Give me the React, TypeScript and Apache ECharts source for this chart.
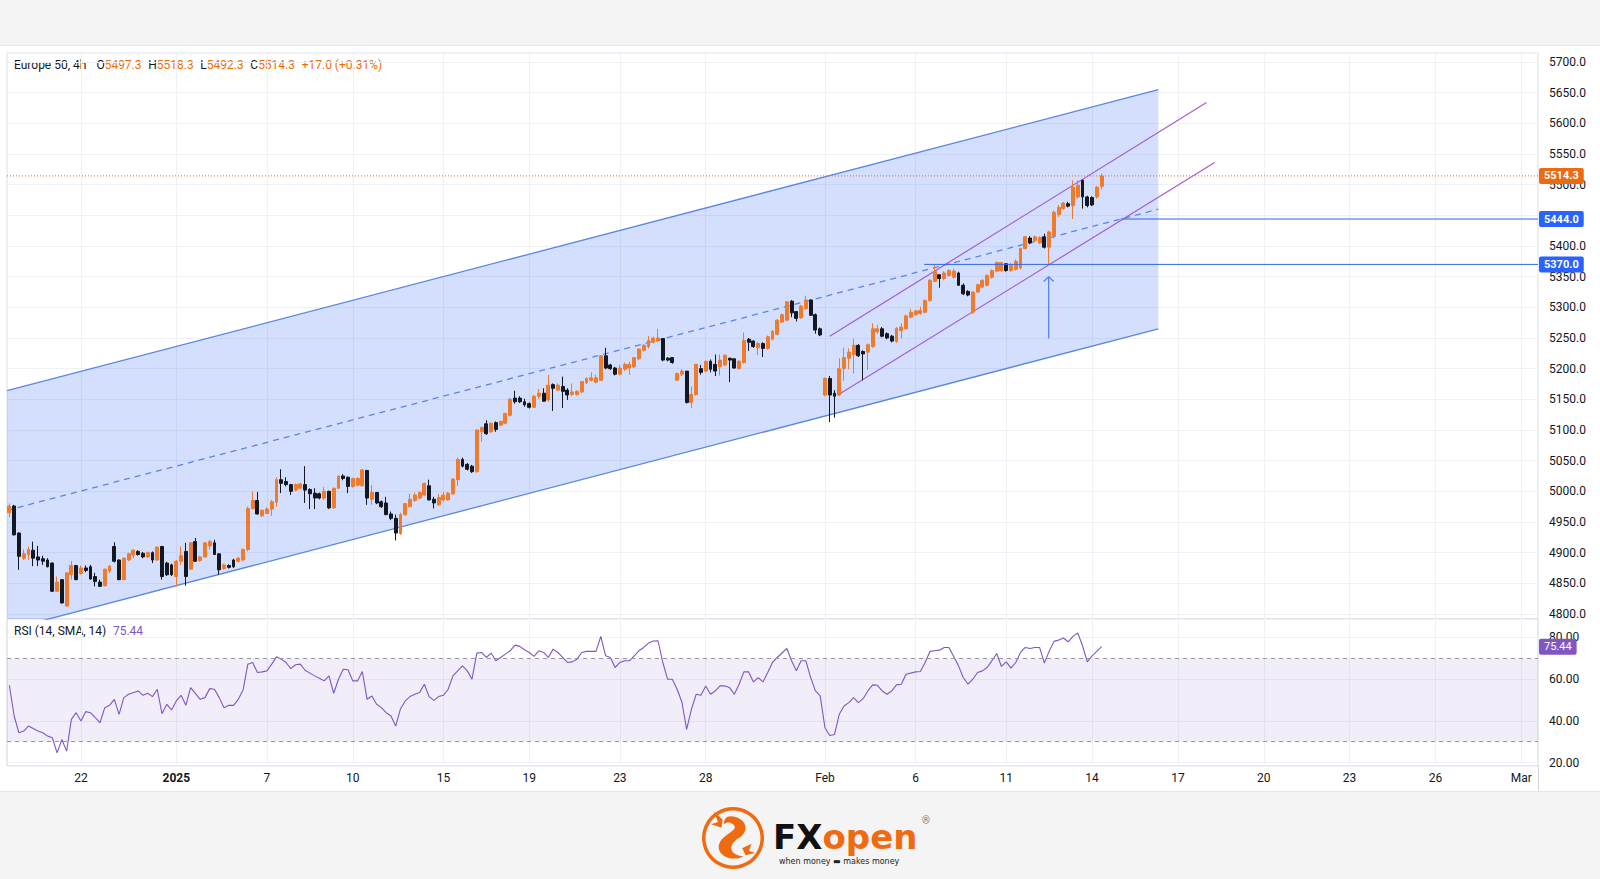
import React, { useEffect, useRef } from 'react';
import * as echarts from 'echarts';

// ---------------- data ----------------
const symbolName = 'Europe 50, 4h';
const lastOpen = 5497.3;
const lastHigh = 5518.3;
const lastLow = 5492.3;
const lastClose = 5514.3;
const changeText = '+17.0 (+0.31%)';
const rsiTitle = 'RSI (14, SMA, 14)';
const lastRsi = 75.44;
const levelHigh = 5444.0;
const levelLow = 5370.0;
const hiddenPriceLabels = [5450]; // covered by the 5444.0 tag in the reference
const slotCount = 321; // bar slots on the time axis (incl. future space)

// [open, close, low, high]
const candles: number[][] = [
  [4965,4976,4958,4980],[4976,4929,4928,4978],[4932,4894,4872,4933],[4891,4898,4888,4905],[4897,4905,4888,4910],
  [4904,4891,4878,4918],[4893,4888,4878,4911],[4890,4886,4880,4895],[4888,4877,4876,4891],[4883,4837,4836,4884],
  [4837,4852,4836,4861],[4856,4818,4817,4857],[4813,4867,4812,4868],[4864,4879,4856,4886],[4879,4856,4855,4880],
  [4866,4875,4864,4879],[4875,4871,4868,4879],[4877,4857,4856,4880],[4861,4853,4845,4867],[4852,4845,4844,4856],
  [4846,4873,4845,4874],[4870,4878,4867,4880],[4910,4886,4884,4917],[4888,4856,4855,4889],[4856,4891,4855,4892],
  [4888,4898,4886,4900],[4896,4904,4891,4906],[4902,4897,4895,4904],[4899,4893,4891,4901],[4893,4900,4891,4902],
  [4900,4888,4883,4902],[4888,4909,4887,4910],[4910,4861,4856,4911],[4883,4864,4862,4885],[4880,4864,4862,4882],
  [4861,4886,4845,4888],[4886,4895,4880,4910],[4902,4861,4846,4916],[4873,4916,4872,4917],[4918,4886,4885,4924],
  [4887,4893,4885,4895],[4893,4916,4892,4917],[4911,4918,4905,4921],[4916,4897,4896,4921],[4898,4872,4864,4899],
  [4874,4880,4872,4882],[4879,4876,4874,4881],[4888,4877,4875,4890],[4886,4891,4884,4893],[4888,4905,4886,4907],
  [4905,4972,4902,4975],[4972,4985,4970,5000],[4985,4963,4962,4999],[4960,4969,4958,4971],[4964,4971,4963,4974],
  [4971,4983,4960,4986],[4982,5019,4975,5023],[5019,5013,4997,5036],[5016,5011,5008,5023],[5011,5000,4994,5012],
  [5002,5011,5000,5013],[5005,5012,5003,5014],[5011,5002,4981,5041],[5003,4996,4971,5005],[4997,4989,4971,5005],
  [4996,4989,4987,4998],[4989,5000,4986,5007],[5000,4973,4971,5001],[4973,5005,4972,5006],[5005,5025,5004,5026],
  [5025,5021,5018,5028],[5023,5008,4997,5024],[5008,5021,5006,5022],[5010,5021,5008,5023],[5009,5035,5008,5036],
  [5034,4989,4978,5035],[4987,4998,4978,5010],[4998,4981,4979,4999],[4983,4975,4973,4985],[4981,4962,4961,4991],
  [4963,4956,4953,4967],[4956,4932,4920,4962],[4931,4962,4929,4965],[4962,4980,4960,4981],[4975,4987,4974,4996],
  [4985,4994,4983,4998],[4989,4998,4987,5000],[4994,5013,4992,5014],[5009,4986,4985,5019],[4987,4981,4972,4991],
  [4978,4990,4976,4996],[4986,4994,4983,4999],[4986,4997,4985,4999],[4996,5020,4994,5021],[5019,5052,5009,5055],
  [5052,5041,5039,5055],[5044,5036,5034,5046],[5041,5032,5030,5043],[5032,5100,5030,5101],[5097,5104,5081,5106],
  [5110,5094,5092,5116],[5097,5111,5095,5112],[5112,5101,5097,5114],[5108,5114,5106,5115],[5111,5127,5109,5128],
  [5124,5150,5122,5152],[5152,5146,5143,5164],[5152,5146,5144,5155],[5146,5141,5138,5151],[5143,5137,5135,5145],
  [5137,5155,5136,5157],[5155,5160,5151,5167],[5160,5147,5146,5168],[5149,5173,5146,5190],[5174,5168,5131,5176],
  [5165,5173,5163,5176],[5171,5163,5136,5187],[5165,5157,5149,5168],[5158,5162,5155,5176],[5158,5163,5156,5165],
  [5162,5179,5160,5180],[5177,5184,5175,5186],[5181,5185,5179,5194],[5178,5185,5176,5190],[5181,5221,5180,5222],
  [5221,5201,5199,5234],[5206,5200,5198,5208],[5201,5191,5189,5203],[5191,5201,5189,5206],[5199,5207,5196,5210],
  [5201,5207,5190,5211],[5203,5218,5201,5219],[5216,5232,5214,5233],[5230,5238,5228,5240],[5236,5246,5233,5253],
  [5243,5250,5241,5252],[5245,5250,5243,5265],[5249,5214,5212,5250],[5217,5214,5212,5219],[5218,5210,5208,5219],
  [5181,5192,5180,5194],[5191,5196,5188,5199],[5196,5145,5143,5196],[5145,5158,5136,5171],[5158,5207,5156,5208],
  [5200,5194,5190,5206],[5196,5212,5194,5213],[5212,5199,5194,5215],[5207,5196,5188,5223],[5203,5214,5189,5223],
  [5206,5222,5204,5223],[5217,5214,5178,5218],[5216,5201,5200,5217],[5200,5212,5199,5214],[5210,5246,5208,5259],
  [5248,5243,5229,5250],[5245,5236,5234,5246],[5234,5241,5222,5244],[5241,5233,5219,5243],[5233,5252,5231,5254],
  [5248,5261,5246,5263],[5256,5279,5254,5281],[5276,5288,5274,5290],[5279,5309,5277,5310],[5310,5291,5284,5312],
  [5293,5282,5277,5294],[5283,5302,5281,5304],[5298,5312,5296,5319],[5312,5287,5286,5313],[5288,5263,5257,5290],
  [5265,5255,5253,5267],[5157,5184,5155,5186],[5184,5157,5113,5188],[5160,5155,5120,5165],[5157,5200,5155,5217],
  [5200,5218,5180,5234],[5217,5227,5199,5233],[5223,5238,5192,5249],[5238,5221,5219,5240],[5228,5224,5181,5230],
  [5227,5239,5198,5241],[5236,5265,5234,5274],[5260,5265,5257,5271],[5265,5253,5251,5268],[5257,5250,5248,5259],
  [5253,5245,5243,5255],[5244,5266,5242,5268],[5262,5268,5249,5274],[5265,5286,5264,5288],[5284,5292,5282,5297],
  [5288,5294,5286,5296],[5290,5295,5288,5301],[5292,5311,5290,5313],[5311,5344,5309,5346],[5342,5359,5341,5369],
  [5353,5347,5332,5354],[5347,5356,5344,5359],[5352,5360,5350,5362],[5349,5359,5347,5363],[5356,5336,5335,5358],
  [5336,5322,5320,5339],[5326,5320,5318,5328],[5292,5325,5289,5326],[5325,5337,5323,5338],[5333,5344,5331,5346],
  [5336,5352,5334,5354],[5349,5360,5347,5362],[5359,5373,5357,5375],[5360,5373,5358,5374],[5371,5360,5358,5372],
  [5360,5370,5358,5372],[5362,5375,5360,5378],[5364,5396,5362,5397],[5396,5415,5394,5417],[5413,5405,5403,5416],
  [5409,5415,5406,5417],[5405,5414,5403,5416],[5415,5398,5396,5420],[5398,5423,5368,5425],[5417,5455,5412,5458],
  [5451,5463,5447,5467],[5461,5470,5459,5472],[5469,5465,5463,5472],[5466,5496,5444,5507],[5480,5499,5477,5507],
  [5507,5480,5461,5508],[5480,5466,5463,5482],[5479,5467,5465,5481],[5480,5496,5477,5498],
  [lastOpen, lastClose, lastLow, lastHigh],
];

// RSI readings: [bar index, value]
const rsiPoints: number[][] = [
  [0,57.0],[1,42.3],[2,34.3],[3,35.1],[4,37.5],[6,35.1],[7,34.3],[8,32.7],[9,31.9],[10,24.7],[11,31.1],[12,25.5],
  [13,40.7],[14,43.9],[15,39.9],[16,44.4],[17,43.9],[18,41.5],[19,39.1],[20,46.3],[21,47.4],[22,50.3],[23,43.1],
  [24,51.1],[25,52.7],[27,54.3],[28,52.2],[29,53.2],[30,51.6],[31,55.1],[32,43.4],[33,47.9],[34,45.2],[35,49.5],
  [36,52.2],[37,47.4],[38,55.9],[40,50.3],[41,51.1],[42,55.4],[43,55.1],[44,51.1],[45,46.3],[46,47.4],[47,47.4],
  [48,50.3],[49,54.8],[50,67.1],[51,67.9],[52,63.1],[53,63.4],[54,63.9],[55,67.1],[56,70.6],[57,69.5],[58,67.9],
  [59,65.0],[60,66.8],[61,67.1],[62,64.2],[64,61.5],[65,60.4],[66,59.1],[67,61.5],[68,53.2],[69,59.9],[70,64.7],
  [71,64.4],[72,59.1],[73,59.1],[74,63.6],[75,50.3],[76,51.9],[77,47.9],[78,46.3],[79,43.9],[80,42.3],[81,37.5],
  [82,45.7],[83,49.5],[84,51.6],[85,52.7],[86,53.5],[87,57.5],[88,51.6],[89,49.8],[90,51.6],[91,52.2],[92,55.1],
  [93,61.5],[95,66.3],[96,63.9],[97,59.9],[98,72.4],[99,72.7],[100,70.3],[101,72.4],[102,68.7],[103,70.3],
  [104,71.9],[105,73.5],[106,76.2],[107,75.6],[108,74.0],[109,72.7],[110,70.8],[111,73.5],[112,72.7],[113,70.3],
  [114,74.3],[115,72.7],[116,70.3],[117,67.9],[118,68.2],[119,69.5],[120,72.7],[121,73.2],[122,73.2],[123,73.2],
  [124,80.4],[125,71.1],[126,70.3],[127,65.5],[128,67.9],[129,68.7],[130,68.7],[131,71.1],[132,73.5],[133,75.1],
  [134,77.2],[135,78.2],[136,78.3],[137,67.9],[138,59.9],[139,59.9],[140,55.1],[141,49.0],[142,35.9],[143,45.5],
  [144,52.7],[145,52.2],[146,56.7],[147,52.7],[148,54.3],[149,56.7],[150,56.7],[151,55.9],[152,52.7],[153,57.5],
  [154,63.4],[155,63.4],[156,58.6],[157,60.7],[158,58.6],[159,63.1],[160,67.9],[161,70.3],[163,74.6],[164,68.7],
  [165,63.9],[166,68.7],[167,68.7],[168,60.7],[169,54.3],[170,51.9],[171,36.7],[172,33.0],[173,33.5],[174,43.1],
  [175,47.1],[176,48.7],[177,51.1],[178,48.7],[179,50.6],[180,54.3],[181,57.2],[182,57.0],[183,54.3],[184,52.7],
  [185,54.3],[186,57.2],[187,57.5],[188,62.3],[190,63.4],[191,63.6],[192,67.9],[193,73.2],[194,73.5],[195,73.8],
  [196,75.1],[197,75.1],[199,66.3],[200,60.7],[201,57.5],[202,59.9],[203,63.1],[204,63.9],[205,65.5],[206,68.7],
  [207,72.2],[208,66.0],[209,68.2],[210,65.2],[211,67.9],[212,72.7],[213,75.1],[214,74.6],[215,75.1],[216,75.1],
  [217,67.6],[218,73.2],[219,78.0],[220,78.6],[221,79.6],[222,77.8],[223,80.4],[224,82.0],[225,75.9],[226,68.2],
  [227,71.1],[228,73.2],[229,lastRsi],
];

const dateTicks: [number, string][] = [
  [15,'22'],[35,'2025'],[54,'7'],[72,'10'],[91,'15'],[109,'19'],[128,'23'],[146,'28'],[171,'Feb'],
  [190,'6'],[209,'11'],[227,'14'],[245,'17'],[263,'20'],[281,'23'],[299,'26'],[317,'Mar'],
];

// drawings: [bar position, price]
const channelUpper = [[-0.5, 5164], [240.9, 5655]];
const channelMid = [[-0.5, 4969], [240.9, 5460]];
const channelLower = [[-0.5, 4774], [240.9, 5265]];
const trendUpper = [[172, 5253], [251, 5634]];
const trendLower = [[173.7, 5157], [252.7, 5536]];
const levelHighStart = 233.0;
const levelLowStart = 191.8;
const arrowShaft = [[217.9, 5249], [217.9, 5350]];
const arrowHead = [[216.85, 5342], [217.9, 5350], [218.95, 5342]];

// ---------------- styling ----------------
const FONT = 'Roboto, "Liberation Sans", sans-serif';
const UP = '#ef7b2f';
const DOWN = '#131722';
const ORANGE_TAG = '#ec6a12';
const BLUE = '#2f66e8';
const BLUE_TAG = '#2962ff';
const CH_LINE = '#5a86e2';
const PURPLE = '#a55bd4';
const RSI_COLOR = '#7e57c2';
const GRID_COLOR = '#eff1f6';
const SLOT_MAX = slotCount - 0.5;

const tickMap = new Map<number, string>(dateTicks);

let swirlRegistered = false;
function registerLogoShapes() {
  if (swirlRegistered) return;
  swirlRegistered = true;
  echarts.graphic.registerShape(
    'fxSwirl',
    echarts.graphic.extendPath(
      'M-2-19C12-18 15-6 5 0C-5 6-3 15 9 16C-3 22-17 13-11 3C-7-4 6-7 0-12C-2-14-6-14-8-12C-8-16-6-19-2-19Z' +
        'M-9-16L-17-23L-13-14L-19-12L-10-9Z' +
        'M8 9L16 5L14 11L19 13L11 15Z',
      {}
    )
  );
}

function clipPoly(points: number[][], r: { x: number; y: number; width: number; height: number }) {
  const clip = (poly: number[][], inside: (p: number[]) => boolean, cross: (a: number[], b: number[]) => number[]) => {
    const out: number[][] = [];
    for (let i = 0; i < poly.length; i++) {
      const cur = poly[i];
      const prev = poly[(i + poly.length - 1) % poly.length];
      const ci = inside(cur);
      const pi = inside(prev);
      if (ci) {
        if (!pi) out.push(cross(prev, cur));
        out.push(cur);
      } else if (pi) out.push(cross(prev, cur));
    }
    return out;
  };
  const atX = (a: number[], b: number[], x: number) => [x, a[1] + ((b[1] - a[1]) * (x - a[0])) / (b[0] - a[0])];
  const atY = (a: number[], b: number[], y: number) => [a[0] + ((b[0] - a[0]) * (y - a[1])) / (b[1] - a[1]), y];
  let p = points;
  p = clip(p, (q) => q[0] >= r.x, (a, b) => atX(a, b, r.x));
  p = clip(p, (q) => q[0] <= r.x + r.width, (a, b) => atX(a, b, r.x + r.width));
  p = clip(p, (q) => q[1] >= r.y, (a, b) => atY(a, b, r.y));
  p = clip(p, (q) => q[1] <= r.y + r.height, (a, b) => atY(a, b, r.y + r.height));
  return p;
}

function buildOption() {
  const slots = Array.from({ length: slotCount }, (_, i) => String(i));
  const tagLabel = (bg: string, text: string) => ({
    show: true,
    formatter: () => text,
    backgroundColor: bg,
    color: '#ffffff',
    fontFamily: FONT,
    fontSize: 11,
    fontWeight: 'bold',
    padding: [3, 5, 2, 5],
    borderRadius: 2,
    distance: 1,
  });
  const drawLine = (data: number[][], color: string, extra: any = {}) => ({
    type: 'line',
    xAxisIndex: extra.xAxisIndex ?? 1,
    yAxisIndex: extra.yAxisIndex ?? 0,
    data,
    symbol: 'none',
    silent: true,
    z: 3,
    lineStyle: { color, width: 1.3, ...(extra.lineStyle || {}) },
    ...extra.rest,
  });

  const catAxisCommon = (gridIndex: number, showLabels: boolean) => ({
    type: 'category',
    gridIndex,
    data: slots,
    boundaryGap: true,
    axisLine: { show: false },
    axisTick: { show: false, alignWithLabel: true },
    axisLabel: {
      show: showLabels,
      interval: (i: number) => tickMap.has(i),
      formatter: (_v: string, i: number) => {
        const t = tickMap.get(i) || '';
        return t === '2025' ? `{b|${t}}` : t;
      },
      color: '#131722',
      fontFamily: FONT,
      fontSize: 12,
      margin: 6,
      rich: { b: { fontWeight: 'bold', fontFamily: FONT, fontSize: 12, color: '#131722' } },
    },
    splitLine: {
      show: true,
      interval: (i: number) => tickMap.has(i),
      alignWithLabel: true,
      lineStyle: { color: GRID_COLOR, width: 1 },
    },
  });

  return {
    animation: false,
    backgroundColor: '#ffffff',
    textStyle: { fontFamily: FONT },
    grid: [
      { left: 7, right: 62, top: 53, height: 566, show: true, borderColor: '#dcdfe6', borderWidth: 1, backgroundColor: '#ffffff' },
      { left: 7, right: 62, top: 619, height: 147, show: true, borderColor: '#d0d3db', borderWidth: 1, backgroundColor: '#ffffff' },
    ],
    xAxis: [
      catAxisCommon(0, false),
      { type: 'value', gridIndex: 0, min: -0.5, max: SLOT_MAX, show: false },
      catAxisCommon(1, true),
      { type: 'value', gridIndex: 1, min: -0.5, max: SLOT_MAX, show: false },
    ],
    yAxis: [
      {
        type: 'value',
        gridIndex: 0,
        position: 'right',
        min: 4791.8,
        max: 5714.7,
        splitNumber: 18,
        minInterval: 50,
        maxInterval: 50,
        axisLine: { show: false },
        axisTick: { show: false },
        axisLabel: {
          showMinLabel: false,
          showMaxLabel: false,
          formatter: (v: number) => (hiddenPriceLabels.includes(Math.round(v)) ? '' : v.toFixed(1)),
          color: '#131722',
          fontFamily: FONT,
          fontSize: 12,
          margin: 11,
        },
        splitLine: { show: true, lineStyle: { color: GRID_COLOR } },
      },
      {
        type: 'value',
        gridIndex: 1,
        position: 'right',
        min: 18.4,
        max: 88.7,
        splitNumber: 4,
        minInterval: 20,
        maxInterval: 20,
        axisLine: { show: false },
        axisTick: { show: false },
        axisLabel: {
          showMinLabel: false,
          showMaxLabel: false,
          formatter: (v: number) => v.toFixed(2),
          color: '#131722',
          fontFamily: FONT,
          fontSize: 12,
          margin: 11,
        },
        splitLine: { show: true, lineStyle: { color: GRID_COLOR } },
      },
    ],
    graphic: [
      { type: 'rect', left: 0, top: 0, shape: { width: 1600, height: 45 }, style: { fill: '#f4f4f4' }, silent: true },
      { type: 'rect', left: 0, top: 792, shape: { width: 1600, height: 87 }, style: { fill: '#f4f4f4' }, silent: true },
      { type: 'line', shape: { x1: 0, y1: 45.5, x2: 1600, y2: 45.5 }, style: { stroke: '#e6e6e6', lineWidth: 1 }, silent: true },
      { type: 'line', shape: { x1: 0, y1: 791.5, x2: 1600, y2: 791.5 }, style: { stroke: '#e6e6e6', lineWidth: 1 }, silent: true },
      { type: 'line', shape: { x1: 1538.5, y1: 766, x2: 1538.5, y2: 791 }, style: { stroke: '#d0d3db', lineWidth: 1 }, silent: true },
      {
        type: 'text',
        left: 14,
        top: 59,
        silent: true,
        style: {
          text:
            `{n|${symbolName}}   {k|O}{v|${lastOpen.toFixed(1)}}  {k|H}{v|${lastHigh.toFixed(1)}}  ` +
            `{k|L}{v|${lastLow.toFixed(1)}}  {k|C}{v|${lastClose.toFixed(1)}}  {v|${changeText}}`,
          rich: {
            n: { fill: '#131722', fontSize: 12, fontFamily: FONT },
            k: { fill: '#131722', fontSize: 12, fontFamily: FONT },
            v: { fill: '#ef6c00', fontSize: 12, fontFamily: FONT },
          },
        },
      },
      {
        type: 'text',
        left: 14,
        top: 625,
        silent: true,
        style: {
          text: `{n|${rsiTitle}}  {v|${lastRsi.toFixed(2)}}`,
          rich: {
            n: { fill: '#131722', fontSize: 12, fontFamily: FONT },
            v: { fill: RSI_COLOR, fontSize: 12, fontFamily: FONT },
          },
        },
      },
      // FXOpen logo
      {
        type: 'group',
        silent: true,
        children: [
          { type: 'ring', shape: { cx: 733, cy: 838, r: 31, r0: 27.5 }, style: { fill: '#f06a12' } },
          { type: 'fxSwirl', x: 733, y: 838, scaleX: 1.15, scaleY: 1.15, style: { fill: '#f06a12' } },
          {
            type: 'text',
            x: 773,
            y: 837,
            style: {
              text: '{a|FX}{b|open}',
              verticalAlign: 'middle',
              rich: {
                a: { fill: '#111111', fontSize: 34, fontWeight: 900, fontFamily: '"DejaVu Sans", sans-serif' },
                b: { fill: '#f06a12', fontSize: 34, fontWeight: 'bold', fontFamily: '"DejaVu Sans", sans-serif' },
              },
            },
          },
          { type: 'text', x: 922, y: 815, style: { text: '®', fill: '#777777', fontSize: 10, fontFamily: FONT } },
          {
            type: 'text',
            x: 779,
            y: 857,
            style: { text: 'when money ▬ makes money', fill: '#222222', fontSize: 8, fontFamily: '"DejaVu Sans", sans-serif' },
          },
        ],
      },
    ],
    series: [
      {
        type: 'custom',
        xAxisIndex: 1,
        yAxisIndex: 0,
        silent: true,
        z: 1,
        data: [[0, 5000]],
        renderItem: (params: any, api: any) => {
          const cs = params.coordSys;
          const pts = [channelUpper[0], channelUpper[1], channelLower[1], channelLower[0]].map((p) => api.coord(p));
          const clipped = clipPoly(pts, { x: cs.x, y: cs.y, width: cs.width, height: cs.height });
          return {
            type: 'polygon',
            shape: { points: clipped },
            style: { fill: 'rgba(52,104,250,0.21)', stroke: 'none' },
          };
        },
      },
      drawLine(channelUpper, CH_LINE),
      drawLine(channelLower, CH_LINE),
      drawLine(channelMid, CH_LINE, { lineStyle: { type: [6, 5], width: 1.3 } }),
      drawLine(trendUpper, PURPLE, { lineStyle: { width: 1.2 } }),
      drawLine(trendLower, PURPLE, { lineStyle: { width: 1.2 } }),
      drawLine(
        [[levelLowStart, levelLow], [SLOT_MAX, levelLow]],
        BLUE,
        { lineStyle: { width: 1 }, rest: { z: 6, endLabel: tagLabel(BLUE_TAG, levelLow.toFixed(1)) } }
      ),
      drawLine(
        [[levelHighStart, levelHigh], [SLOT_MAX, levelHigh]],
        BLUE,
        { lineStyle: { width: 1 }, rest: { z: 6, endLabel: tagLabel(BLUE_TAG, levelHigh.toFixed(1)) } }
      ),
      drawLine(
        [[-0.5, lastClose], [SLOT_MAX, lastClose]],
        ORANGE_TAG,
        { lineStyle: { width: 1, type: [1, 2] }, rest: { z: 7, endLabel: tagLabel(ORANGE_TAG, lastClose.toFixed(1)) } }
      ),
      drawLine(arrowShaft, CH_LINE, { lineStyle: { width: 1.3 } }),
      drawLine(arrowHead, CH_LINE, { lineStyle: { width: 1.3 } }),
      {
        type: 'candlestick',
        xAxisIndex: 0,
        yAxisIndex: 0,
        data: candles,
        barWidth: 3.4,
        silent: true,
        z: 5,
        itemStyle: { color: UP, color0: DOWN, borderColor: UP, borderColor0: DOWN, borderWidth: 1 },
      },
      {
        type: 'line',
        xAxisIndex: 2,
        yAxisIndex: 1,
        data: rsiPoints,
        symbol: 'none',
        silent: true,
        z: 4,
        lineStyle: { color: RSI_COLOR, width: 1.1 },
        markArea: {
          silent: true,
          itemStyle: { color: 'rgba(126,87,194,0.1)' },
          data: [[{ yAxis: 30 }, { yAxis: 70 }]],
        },
        markLine: {
          silent: true,
          symbol: ['none', 'none'],
          label: { show: false },
          data: [
            { yAxis: 70, lineStyle: { color: '#9598a1', type: [4, 4], width: 1 } },
            { yAxis: 30, lineStyle: { color: '#9598a1', type: [4, 4], width: 1 } },
          ],
        },
      },
      // last RSI value tag on the RSI price scale
      drawLine(
        [[-0.5, lastRsi], [SLOT_MAX, lastRsi]],
        'rgba(0,0,0,0)',
        {
          xAxisIndex: 3,
          yAxisIndex: 1,
          lineStyle: { width: 1, color: 'rgba(0,0,0,0)' },
          rest: { z: 7, endLabel: { ...tagLabel(RSI_COLOR, lastRsi.toFixed(2)), fontWeight: 'normal' } },
        }
      ),
    ],
  };
}

export default function App() {
  const ref = useRef<HTMLDivElement>(null);
  useEffect(() => {
    if (!ref.current) return;
    registerLogoShapes();
    const chart = echarts.init(ref.current, undefined, { renderer: 'svg' });
    chart.setOption(buildOption() as any);
    return () => chart.dispose();
  }, []);
  return (
    <div
      ref={ref}
      style={{ position: 'fixed', left: 0, top: 0, width: 1600, height: 879, background: '#ffffff' }}
    />
  );
}
